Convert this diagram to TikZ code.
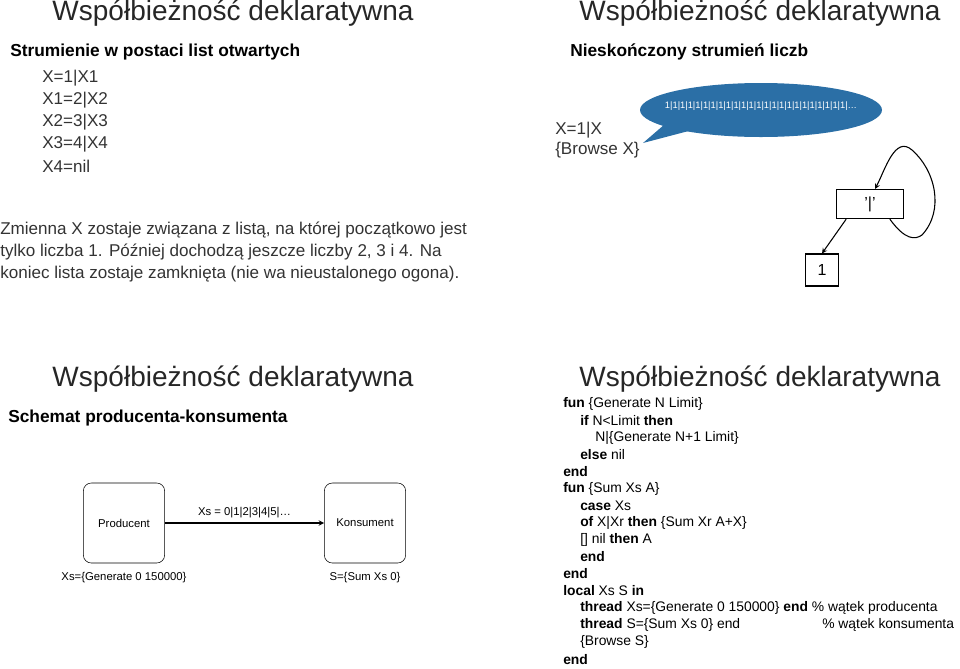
\documentclass[tikz,border=0pt]{standalone}
\usepackage{fontspec}
\setmainfont{Liberation Sans}
\usetikzlibrary{positioning,shapes.geometric}
\definecolor{bubble}{HTML}{2B6FA6}
\begin{document}
\begin{tikzpicture}[
    x=0.75pt, y=-0.75pt,
    title/.style={font=\fontsize{21}{24}\selectfont, text=black!85},
    sub/.style={anchor=west, inner sep=0pt, font=\fontsize{13}{15}\selectfont\bfseries},
    txt/.style={anchor=west, font=\fontsize{12.8}{15}\selectfont, text=black!80, inner sep=0pt},
    code/.style={anchor=west, font=\fontsize{10.4}{12}\selectfont, inner sep=0pt},
    cell/.style={rectangle, draw, thick, minimum height=22pt},
    agent/.style={rectangle, draw, rounded corners=6pt, minimum width=61pt, minimum height=60pt, font=\fontsize{8.5}{10}\selectfont},
    note/.style={font=\fontsize{8.5}{10}\selectfont},
    arrow/.style={thick,->,>=stealth}
]
    \useasboundingbox (0,0) rectangle (960,668);
    % Top left
    \node [title] (t1) at (233,13) {Współbieżność deklaratywna};
    \node [sub] (s1) at (10,52) {Strumienie w postaci list otwartych};
    \foreach \y/\s in {78/X=1|X1, 100/X1=2|X2, 122/X2=3|X3, 144/X3=4|X4, 166/X4=nil}
        \node [txt] at (42,\y) {\s};
    \node [txt] (p1) at (0,230) {Zmienna X zostaje związana z listą, na której początkowo jest};
    \node [txt] (p2) at (0,252) {tylko liczba 1. Później dochodzą jeszcze liczby 2, 3 i 4. Na};
    \node [txt] (p3) at (0,274) {koniec lista zostaje zamknięta (nie wa nieustalonego ogona).};
    % Top right
    \node [title] (t2) at (760,13) {Współbieżność deklaratywna};
    \node [sub] (s2) at (570,52) {Nieskończony strumień liczb};
    \fill [bubble] (672,118) -- (643,143) -- (700,128) -- cycle;
    \fill [bubble] (761,110) ellipse [x radius=121, y radius=27];
    \node [text=white, font=\fontsize{7}{8}\selectfont] (bub) at (761,106) {1|1|1|1|1|1|1|1|1|1|1|1|1|1|1|1|1|1|1|1|1|1|1|1|\dots};
    \node [txt] (x1) at (555,130) {X=1|X};
    \node [txt] (x2) at (555,150) {\{Browse X\}};
    \node [cell, minimum width=50pt] (bar) at (870,204) {\large ’|’};
    \node [cell, minimum width=25pt, minimum height=24pt] (one) at (822,270) {\large 1};
    \draw [arrow] (bar.south west) ++(10,0) coordinate (b0) -- (one.north);
    \draw [arrow] (bar.south east) ++(-14,0) .. controls (905,240) and (915,240) .. (922,235)
        .. controls (945,210) and (935,170) .. (912,150) .. controls (895,135) and (885,170) .. (875,189);
    % Bottom left
    \node [title] (t3) at (233,379) {Współbieżność deklaratywna};
    \node [sub] (s3) at (8,418) {Schemat producenta-konsumenta};
    \node [agent] (prod) at (124,523) {Producent};
    \node [agent] (kons) at (365,523) {Konsument};
    \draw [arrow] (prod) -- node [above, note] {Xs = 0|1|2|3|4|5|\dots} (kons);
    \node [note, below=3pt of prod] (pl) {Xs=\{Generate 0 150000\}};
    \node [note, below=3pt of kons] (kl) {S=\{Sum Xs 0\}};
    % Bottom right
    \node [title] (t4) at (760,379) {Współbieżność deklaratywna};
    \foreach \x/\y/\s in {563/404/{\textbf{fun} \{Generate N Limit\}},
        580/421/{\textbf{if} N<Limit \textbf{then}},
        595/438/{N|\{Generate N+1 Limit\}},
        580/455/{\textbf{else} nil},
        563/472/{\textbf{end}},
        563/489/{\textbf{fun} \{Sum Xs A\}},
        580/506/{\textbf{case} Xs},
        580/523/{\textbf{of} X|Xr \textbf{then} \{Sum Xr A+X\}},
        580/540/{[] nil \textbf{then} A},
        580/557/{\textbf{end}},
        563/574/{\textbf{end}},
        563/591/{\textbf{local} Xs S \textbf{in}},
        580/608/{\textbf{thread} Xs=\{Generate 0 150000\} \textbf{end} \% wątek producenta},
        580/625/{\textbf{thread} S=\{Sum Xs 0\} end},
        580/642/{\{Browse S\}},
        563/660/{\textbf{end}}}
        \node [code] at (\x,\y) {\s};
    \node [code] (c2) at (822,625) {\% wątek konsumenta};
\end{tikzpicture}
\end{document}
